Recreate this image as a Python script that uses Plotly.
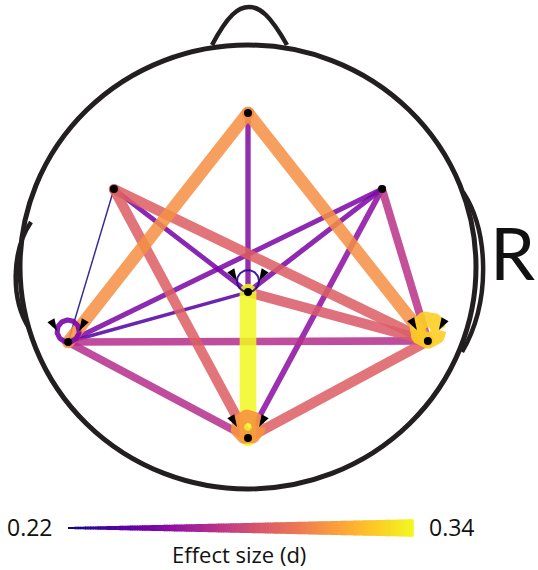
import numpy as np
import plotly.graph_objects as go
from plotly.colors import sample_colorscale

# ---------------- data ----------------
# electrode layout in unit head coordinates (head circle = radius 1)
electrodes = ["Fz", "F3", "F4", "Cz", "T7", "T8", "Pz"]
elec_x = [0.0, -0.588, 0.588, 0.0, -0.789, 0.789, 0.0]
elec_y = [0.694, 0.351, 0.351, -0.113, -0.338, -0.333, -0.770]

# connections and effect sizes (d)
edge_src = ["F3", "Cz", "F3", "F4", "F4", "F4", "T7", "T7", "F4", "Fz", "Cz", "F3", "F3", "Pz", "Fz", "Fz", "Cz"]
edge_dst = ["T7", "T7", "Cz", "T7", "Cz", "Pz", "T8", "Pz", "T8", "Cz", "T8", "T8", "Pz", "T8", "T7", "T8", "Pz"]
edge_val = [0.222, 0.238, 0.248, 0.250, 0.250, 0.255, 0.270, 0.270, 0.272, 0.252, 0.288, 0.290, 0.290, 0.290, 0.308, 0.308, 0.340]

# self connections
loop_node = ["Cz", "T7", "Pz", "T8"]
loop_val = [0.226, 0.250, 0.310, 0.328]

d_min, d_max = 0.22, 0.34
cbar_ticks = ["0.22", "0.34"]
cbar_title = "Effect size (d)"
side_label = "R"

# ---------------- geometry / style ----------------
W, H = 538, 570
CX, CY, RX, RY = 248, 267, 228, 222


def xr(px):
    return (px - CX) / RX


def yr(py):
    return (CY - py) / RY


def frac(v):
    return (v - d_min) / (d_max - d_min)


def color(v):
    return sample_colorscale("Plasma", [min(max(frac(v), 0), 1)])[0]


def width(v):
    return 1.2 + frac(v) * 15.5


pos = {n: (x, y) for n, x, y in zip(electrodes, elec_x, elec_y)}
HEAD = "#231f20"

fig = go.Figure()

# edges, drawn weakest first
order = np.argsort(edge_val, kind="stable")
for i in order:
    s, t, v = edge_src[i], edge_dst[i], edge_val[i]
    w = width(v)
    c = color(v)
    fig.add_trace(go.Scatter(
        x=[pos[s][0], pos[t][0]], y=[pos[s][1], pos[t][1]],
        mode="lines+markers",
        line=dict(color=c, width=w),
        marker=dict(color=c, size=w, line=dict(width=0)),
        opacity=0.86, hoverinfo="skip", showlegend=False))

# self loops
LR = 11  # loop radius in px
tt = np.linspace(0, 2 * np.pi, 80)
arrow_x, arrow_y, arrow_a = [], [], []
for n, v in sorted(zip(loop_node, loop_val), key=lambda p: p[1]):
    x0, y0 = pos[n]
    yc = y0 + LR / RY
    w = width(v)
    c = color(v)
    fig.add_trace(go.Scatter(
        x=x0 + (LR / RX) * np.cos(tt), y=yc + (LR / RY) * np.sin(tt),
        mode="lines", line=dict(color=c, width=w),
        opacity=0.9, hoverinfo="skip", showlegend=False))
    arrow_x += [x0 - LR / RX, x0 + LR / RX]
    arrow_y += [yc, yc]
    arrow_a += [150, 210]

fig.add_trace(go.Scatter(
    x=arrow_x, y=arrow_y, mode="markers",
    marker=dict(symbol="arrow", size=13, color="black", angle=arrow_a, line=dict(width=0)),
    hoverinfo="skip", showlegend=False))

# electrodes
fig.add_trace(go.Scatter(
    x=elec_x, y=elec_y, mode="markers",
    marker=dict(color="black", size=8, line=dict(width=0)),
    text=electrodes, hoverinfo="text", showlegend=False))

shapes = []
# head
shapes.append(dict(type="circle", xref="x", yref="y", x0=-1, x1=1, y0=-1, y1=1,
                   line=dict(color=HEAD, width=5), layer="below"))


def path_px(cmds):
    out = []
    for c in cmds:
        if isinstance(c, str):
            out.append(c)
        else:
            out.append(f"{xr(c[0]):.5f},{yr(c[1]):.5f}")
    return " ".join(out)


nose = path_px(["M", (212, 45), "C", (228, 15), (238, 7), (249, 7), "C", (260, 7), (270, 15), (287, 45)])
ear_l = path_px(["M", (31, 222), "C", (12, 250), (10, 298), (29, 328)])
ear_r = path_px(["M", (463, 192), "C", (488, 230), (492, 300), (462, 352)])
for p in (nose, ear_l, ear_r):
    shapes.append(dict(type="path", xref="x", yref="y", path=p,
                       line=dict(color=HEAD, width=4.5), layer="below"))

# tapered colour bar
BX0, BX1, BY = 68, 413, 528
N = 140
for k in range(N):
    a, b = k / N, (k + 1) / N
    xa, xb = BX0 + a * (BX1 - BX0), BX0 + b * (BX1 - BX0) + 0.8
    ha = width(d_min + a * (d_max - d_min)) / 2 + 0.4
    hb = width(d_min + b * (d_max - d_min)) / 2 + 0.4
    p = path_px(["M", (xa, BY - ha), "L", (xb, BY - hb), "L", (xb, BY + hb), "L", (xa, BY + ha), "Z"])
    shapes.append(dict(type="path", xref="x", yref="y", path=p,
                       fillcolor=sample_colorscale("Plasma", [(a + b) / 2])[0],
                       line=dict(width=0)))

FONT = "Open Sans, Lato, sans-serif"
ann = [
    dict(x=30 / W, y=1 - 527 / H, text=cbar_ticks[0], xanchor="center", font=dict(size=23, family=FONT)),
    dict(x=452 / W, y=1 - 527 / H, text=cbar_ticks[1], xanchor="center", font=dict(size=23, family=FONT)),
    dict(x=239 / W, y=1 - 554 / H, text=cbar_title, xanchor="center", font=dict(size=22, family=FONT)),
    dict(x=537 / W, y=1 - 252 / H, text=side_label, xanchor="right", font=dict(size=72, family="Lato, Open Sans, sans-serif")),
]
for a in ann:
    a.update(xref="paper", yref="paper", showarrow=False, yanchor="middle")
    a["font"].update(color="#111111")

fig.update_layout(
    width=W, height=H, margin=dict(l=0, r=0, t=0, b=0),
    paper_bgcolor="white", plot_bgcolor="white",
    xaxis=dict(range=[xr(0), xr(W)], visible=False, fixedrange=True),
    yaxis=dict(range=[yr(H), yr(0)], visible=False, fixedrange=True),
    shapes=shapes, annotations=ann, showlegend=False)

fig.write_html("out.html", config={"displayModeBar": False},
               post_script="document.body.style.margin='0';document.body.style.overflow='hidden';")
